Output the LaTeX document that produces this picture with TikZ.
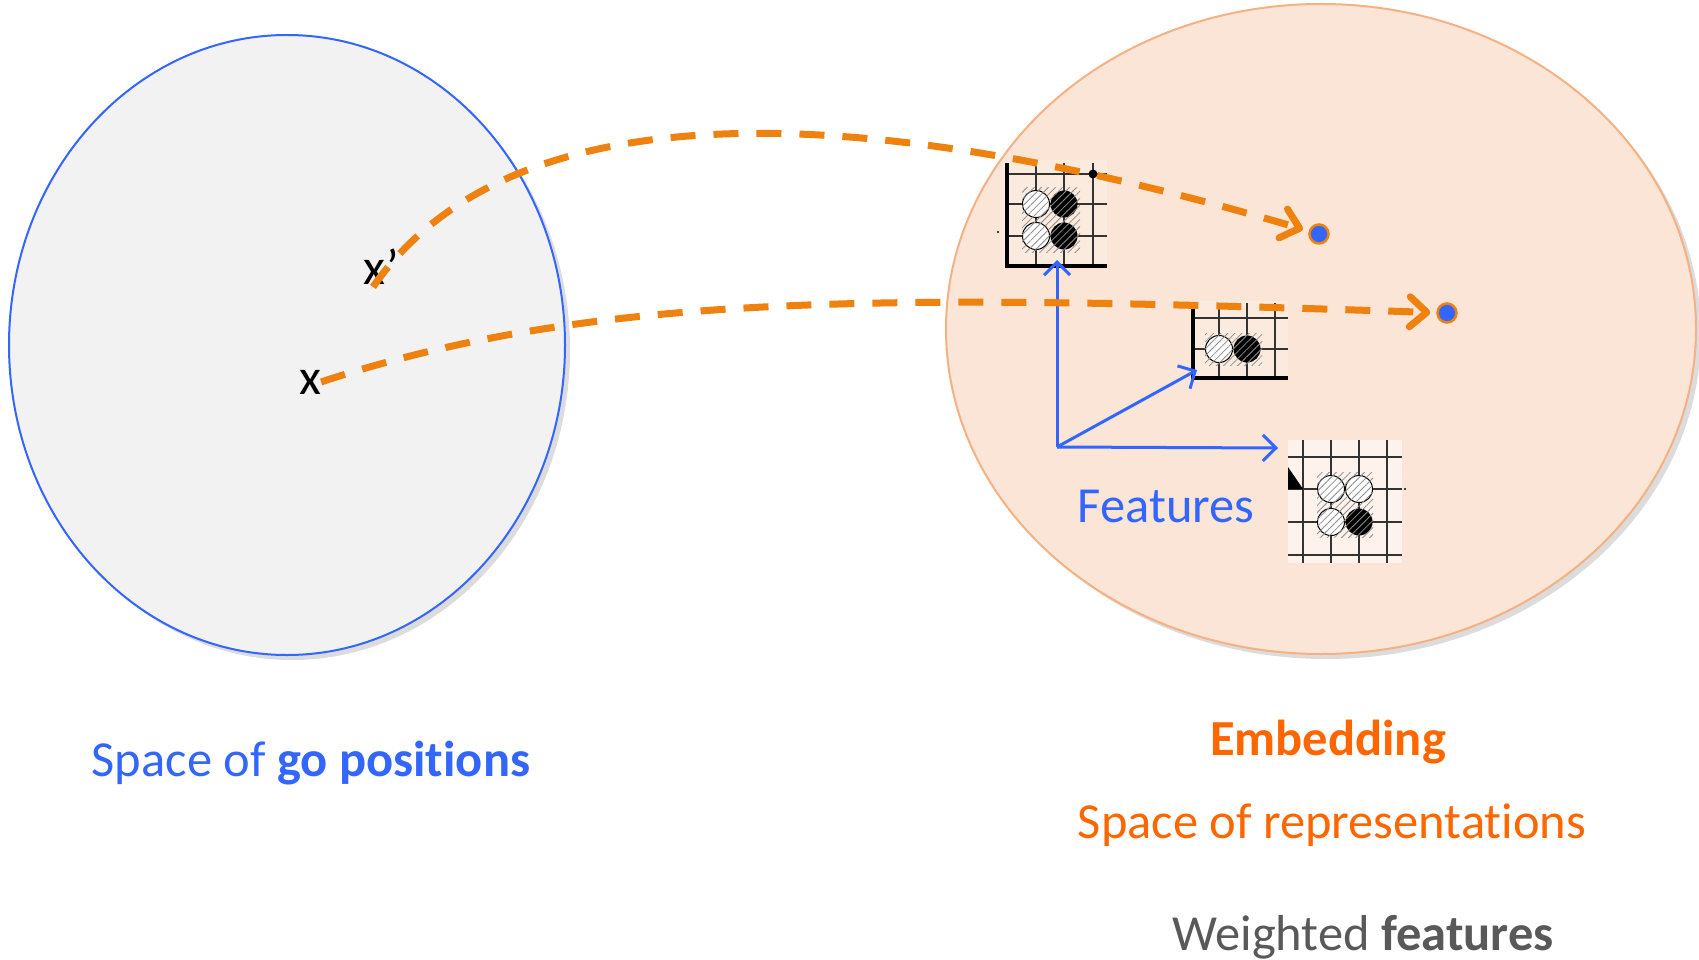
\documentclass[tikz,border=0pt]{standalone}
\usepackage{fontspec}
\setmainfont{Carlito}[Ligatures=NoCommon]
\usepackage{tikz}
\usetikzlibrary{arrows.meta,shadows,patterns.meta}

\definecolor{goblue}{HTML}{3366FF}
\definecolor{embedorange}{HTML}{FF6600}
\definecolor{dashorange}{HTML}{EF810E}
\definecolor{spacegray}{HTML}{F2F2F2}
\definecolor{peach}{HTML}{FBE5D6}
\definecolor{peachline}{HTML}{F4B183}
\definecolor{textgray}{HTML}{595959}

\tikzset{
  bigtext/.style={font=\fontsize{50.5}{60}\selectfont, inner sep=0pt},
  embed/.style={dashorange, line width=7pt, dash pattern=on 25pt off 18pt,
    -{Straight Barb[length=17pt,width=30pt,round]}, shorten >=6pt},
  featureaxis/.style={goblue, line width=3pt, -{Straight Barb[length=13pt,width=26pt]}},
  thingrid/.style={black!80, line width=1.3pt},
  thickgrid/.style={black, line width=4pt},
  hatch/.style={pattern={Lines[angle=45,distance=5pt,line width=0.8pt]}, pattern color=black!45},
  enddot/.style={circle, fill=goblue, draw=dashorange, line width=2.5pt, minimum size=19pt, inner sep=0pt},
}

\newcommand{\whitestone}[1]{\draw[line width=1pt, fill=white] #1 circle (13.5);}
\newcommand{\blackstone}[1]{\fill #1 circle (13.5);}

\begin{document}
\begin{tikzpicture}[x=1pt,y=-1pt]
  \useasboundingbox (0,0) rectangle (1699,960);

  % the two spaces
  \draw[goblue, line width=2pt, fill=spacegray,
        drop shadow={shadow xshift=5pt, shadow yshift=-5pt, opacity=.28}] (287,345) ellipse (278 and 310);
  \draw[peachline, line width=2pt, fill=peach,
        drop shadow={shadow xshift=5pt, shadow yshift=-5pt, opacity=.28}] (1321,329) ellipse (375 and 325);

  % first board: four stones
  \fill[white, opacity=.2] (1003,160) rectangle (1107,266);
  \draw[thingrid] (1036,163) -- (1036,266) (1064,163) -- (1064,266) (1093,163) -- (1093,266);
  \draw[thingrid] (1007,174) -- (1107,174) (1007,204) -- (1107,204) (1007,236) -- (1107,236);
  \whitestone{(1036,204)} \blackstone{(1064,204)}
  \whitestone{(1036,236)} \blackstone{(1064,236)}
  \fill[hatch] (1022,188) rectangle (1080,252);
  \draw[thickgrid] (1007,163) -- (1007,266) -- (1107,266);
  \fill (1093,174) circle (4.5);
  \fill (998,232) circle (1.2);

  % second board: two stones
  \fill[white, opacity=.2] (1190,301) rectangle (1288,380);
  \draw[thingrid] (1219,303) -- (1219,378) (1247,303) -- (1247,378) (1275,303) -- (1275,378);
  \draw[thingrid] (1193,318) -- (1288,318) (1193,349) -- (1288,349);
  \whitestone{(1219,349)} \blackstone{(1247,349)}
  \fill[hatch] (1205,333) rectangle (1262,365);
  \draw[thickgrid] (1193,303) -- (1193,378) -- (1288,378);

  % third board
  \fill[white, opacity=.55] (1288,440) rectangle (1402,563);
  \draw[thingrid] (1303,440) -- (1303,563) (1331,440) -- (1331,563) (1359,440) -- (1359,563) (1387,440) -- (1387,563);
  \draw[thingrid] (1288,457) -- (1402,457) (1288,489) -- (1402,489) (1288,522) -- (1402,522) (1288,555) -- (1402,555);
  \whitestone{(1331,489)} \whitestone{(1359,489)}
  \whitestone{(1331,522)} \blackstone{(1359,522)}
  \fill[hatch] (1317,472) rectangle (1373,537);
  \fill (1288,467) -- (1288,489) -- (1303,489) -- cycle;
  \fill (1405,489) circle (1.2);

  % feature axes
  \coordinate (origin) at (1057,447);
  \coordinate (axisup) at (1057,260);
  \coordinate (axisright) at (1278,448);
  \coordinate (axisdiag) at (1197,370);
  \draw[featureaxis] (origin) -- (axisup);
  \draw[featureaxis] (origin) -- (axisright);
  \draw[featureaxis] (origin) -- (axisdiag);

  % positions and their images
  \node[bigtext, anchor=base] (x) at (310,394) {x};
  \node[bigtext, anchor=base west] (xp) at (363,284) {x’};
  \coordinate (xpstart) at (373,287);
  \node[enddot] (imgxp) at (1319,234) {};
  \node[enddot] (imgx) at (1447,313) {};

  \draw[embed] (x.east) .. controls (600,290) and (900,295) .. (imgx);
  \draw[embed] (xpstart) .. controls (540,45) and (1000,140) .. (imgxp);

  % labels
  \node[bigtext, text=goblue, anchor=base] (featlabel) at (1166,522) {Features};
  \node[bigtext, text=goblue, anchor=base] (gospace) at (311,776) {Space of \textbf{go positions}};
  \node[bigtext, text=embedorange, anchor=base] (embedtitle) at (1328,755) {\textbf{Embedding}};
  \node[bigtext, text=embedorange, anchor=base] (repspace) at (1332,838) {Space of representations};
  \node[bigtext, text=textgray, anchor=base] (weighted) at (1363,950) {Weighted \textbf{features}};
\end{tikzpicture}
\end{document}
